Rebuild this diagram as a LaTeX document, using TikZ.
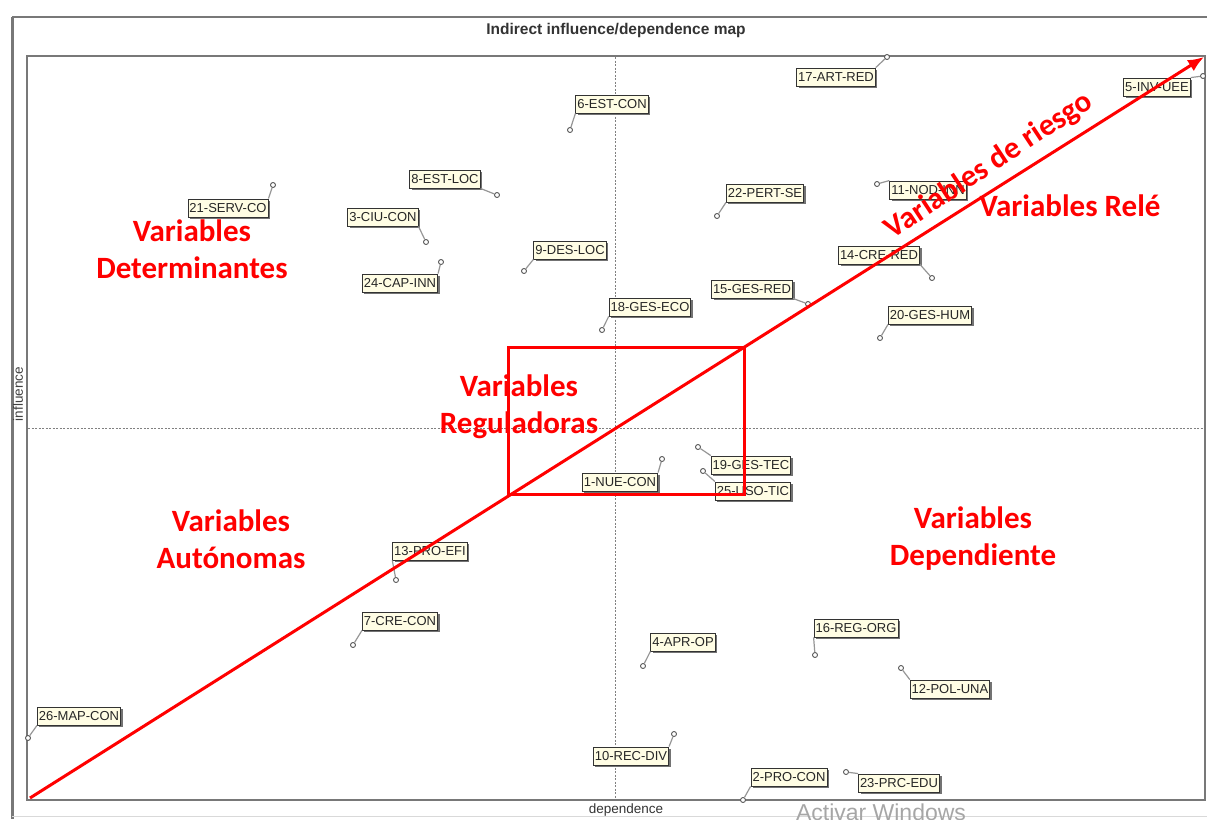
\documentclass[tikz,border=0pt]{standalone}
\usepackage{fontspec}
\setmainfont{Liberation Sans}
\newfontfamily\calib{Carlito}
\usetikzlibrary{arrows.meta,shadows}

\definecolor{framegray}{RGB}{120,120,120}
\definecolor{cream}{RGB}{255,253,228}
\definecolor{leadgray}{RGB}{150,150,150}
\definecolor{riskred}{RGB}{255,0,0}

\tikzset{
  frameline/.style={draw=framegray, line width=2pt},
  axisdash/.style={draw=gray, line width=0.6pt, dash pattern=on 2pt off 1.5pt},
  lbl/.style={draw=black!80, fill=cream, line width=0.9pt, inner xsep=1.5pt, inner ysep=1.5pt,
    minimum height=18pt, font=\fontsize{13}{14}\selectfont, text=black!85,
    drop shadow={shadow xshift=2pt, shadow yshift=-2pt, opacity=1, fill=black!55}},
  pt/.style={circle, draw=black!65, fill=white, line width=0.9pt, inner sep=0pt, minimum size=5pt},
  leader/.style={draw=leadgray, line width=1.2pt},
  zone/.style={text=riskred, align=center, font=\calib\bfseries\fontsize{31}{37}\selectfont},
  riskline/.style={draw=riskred, line width=3pt},
}

\begin{document}
\begin{tikzpicture}[x=1pt,y=-1pt]
\useasboundingbox (0,0) rectangle (1207,819);

% outer window frame and title
\draw[framegray, line width=2.5pt] (12.5,17) -- (12.5,819);
\draw[framegray, line width=1.5pt] (12,17) -- (1207,17);
\draw[black!15, line width=1pt] (12,816) -- (1207,816);
\node[font=\bfseries\fontsize{15.5}{17}\selectfont, text=black!80] (title) at (616,30) {Indirect influence/dependence map};

% plotting area
\draw[frameline] (27,800) -- (27,56) -- (1205,56) -- (1205,800) -- cycle;
\draw[axisdash] (615,57) -- (615,799);
\draw[axisdash] (28,428) -- (1204,428);
\node[rotate=90, font=\fontsize{13.5}{14}\selectfont, text=black!75] (yax) at (18,394) {influence};
\node[font=\fontsize{13.5}{14}\selectfont, text=black!80] (xax) at (626,810) {dependence};

% variables: marker, leader and label
\foreach \name/\txt/\lx/\ly/\px/\py/\corner in {
  a17/17-ART-RED/836/77/887/57/north east,
  a5/5-INV-UEE/1157/87/1203/76/north east,
  a6/6-EST-CON/612/104/570/130/south west,
  a8/8-EST-LOC/445/179/497/195/south east,
  a21/21-SERV-CO/228/208/273/185/north east,
  a3/3-CIU-CON/383/217/426/242/south east,
  a24/24-CAP-INN/400/283/441/262/north east,
  a9/9-DES-LOC/570/250/524/271/south west,
  a22/22-PERT-SE/765/193/717/216/south west,
  a11/11-NOD-INN/928/190/877/184/north west,
  a14/14-CRE-RED/879/255/932/278/south east,
  a15/15-GES-RED/752/289/808/304/south east,
  a18/18-GES-ECO/650/307/602/330/south west,
  a20/20-GES-HUM/930/315/880/338/south west,
  a19/19-GES-TEC/751/465/698/447/north west,
  a25/25-USO-TIC/753/491/703/471/north west,
  a1/1-NUE-CON/620/482/662/459/north east,
  a13/13-PRO-EFI/430/551/396/580/south west,
  a7/7-CRE-CON/400/621/353/645/south west,
  a4/4-APR-OP/683/642/643/666/south west,
  a16/16-REG-ORG/856/628/815/655/south west,
  a12/12-POL-UNA/950/689/901/668/north west,
  a26/26-MAP-CON/79/716/28/738/south west,
  a10/10-REC-DIV/631/756/674/734/north east,
  a2/2-PRO-CON/789/777/743/800/south west,
  a23/23-PRC-EDU/899/783/846/772/north west} {
  \node[pt] (p\name) at (\px,\py) {};
  \node[lbl] (\name) at (\lx,\ly) {\txt};
  \draw[leader] (p\name) -- (\name.\corner);
}

% risk diagonal and regulating zone
\coordinate (o) at (30,798);
\coordinate (e) at (1204,57);
\draw[riskline, -{Latex[length=16pt,width=13pt]}] (o) -- (e);
\draw[riskline] (508,347) rectangle (744,494);

% quadrant captions
\node[zone] (det) at (192,249) {Variables\\Determinantes};
\node[zone] (reg) at (519,407) {Variables\\Reguladoras};
\node[zone] (aut) at (231,539) {Variables\\Autónomas};
\node[zone] (dep) at (973,539) {Variables\\Dependiente};
\node[zone] (rel) at (1070,206) {Variables Relé};
\node[zone, rotate=33.5] (rie) at (989,166) {Variables de riesgo};

% system watermark
\node[text=black!35, font=\fontsize{23}{26}\selectfont] (wm) at (881,812) {Activar Windows};
\end{tikzpicture}
\end{document}
